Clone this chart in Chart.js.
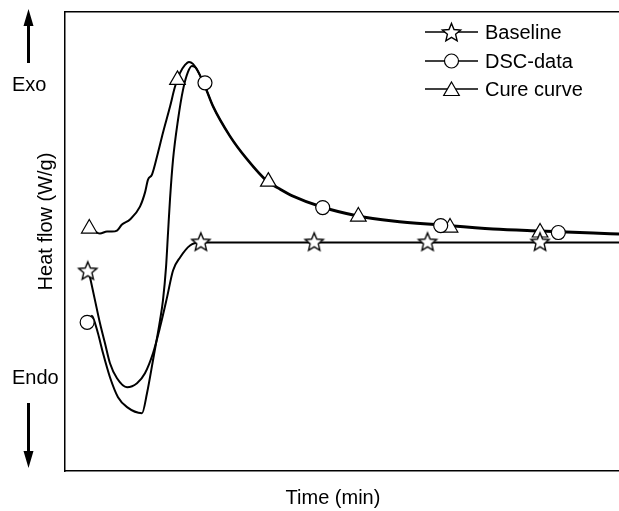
<!DOCTYPE html>
<html>
<head>
<meta charset="utf-8">
<script src="https://cdn.jsdelivr.net/npm/chart.js@4.4.1/dist/chart.umd.min.js"></script>
<style>
  body { margin: 0; background: #fff; }
  canvas { display: block; }
</style>
</head>
<body>
<canvas id="chart" width="619" height="511"></canvas>
<script>
// valores: tempo (min) e fluxo de calor (W/g)
const seriesLabels = ['Baseline', 'DSC-data', 'Cure curve'];

const baselineTime = [2.60, 3.25, 3.79, 4.33, 4.87, 5.63, 6.72, 7.80, 8.66, 9.53, 10.29, 11.05, 11.70, 12.46, 13.54, 14.62, 60];
const baselineFlow = [-0.31, -0.59, -0.82, -1.02, -1.22, -1.37, -1.46, -1.42, -1.32, -1.12, -0.86, -0.56, -0.29, -0.16, -0.04, -0.01, -0.01];

const dscTime = [2.82, 3.03, 3.57, 4.12, 4.87, 5.74, 6.72, 8.34, 8.88, 9.53, 10.29, 10.61, 10.94, 11.16, 11.37, 11.70, 12.24, 12.78, 13.32, 13.75, 14.19, 15.16, 16.03, 17.87, 19.71, 21.88, 23.29, 24.69, 27.83, 31.73, 35.52, 40.61, 46.36, 51.45, 57.19, 60];
const dscFlow = [-0.74, -0.76, -0.92, -1.12, -1.36, -1.56, -1.66, -1.72, -1.52, -1.19, -0.79, -0.59, -0.26, 0.09, 0.42, 0.82, 1.22, 1.52, 1.70, 1.76, 1.74, 1.55, 1.35, 1.05, 0.82, 0.60, 0.52, 0.45, 0.34, 0.25, 0.20, 0.16, 0.12, 0.10, 0.08, 0.07];

const cureTime = [2.71, 3.47, 3.79, 4.55, 5.09, 5.63, 6.17, 7.04, 8.12, 8.66, 8.99, 9.42, 10.07, 10.61, 11.37, 11.91, 12.46, 13.00, 13.43, 13.86, 14.30, 15.16, 16.03, 17.87, 19.71, 21.88, 23.29, 24.69, 27.83, 31.73, 35.52, 40.61, 46.36, 51.45, 57.19, 60];
const cureFlow = [0.14, 0.09, 0.08, 0.10, 0.10, 0.11, 0.17, 0.22, 0.35, 0.49, 0.62, 0.67, 0.89, 1.09, 1.35, 1.55, 1.69, 1.77, 1.80, 1.78, 1.72, 1.56, 1.36, 1.06, 0.83, 0.61, 0.53, 0.46, 0.35, 0.26, 0.21, 0.17, 0.13, 0.11, 0.09, 0.08];

// marcadores de cada serie
const starTime = [2.47, 14.71, 26.99, 39.26, 51.45];
const starFlow = [-0.30, -0.01, -0.01, -0.01, -0.01];
const circleTime = [2.40, 15.16, 27.91, 40.69, 53.43];
const circleFlow = [-0.81, 1.59, 0.34, 0.16, 0.09];
const triangleTime = [2.63, 12.18, 22.02, 31.77, 41.70, 51.45];
const triangleFlow = [0.13, 1.62, 0.60, 0.25, 0.14, 0.09];

const timeRange = [0, 60];
const flowRange = [-2.3, 2.3];

Chart.defaults.font.family = '"Liberation Sans", Arial, sans-serif';

function pontos(xs, ys) {
  return xs.map((x, i) => ({x: x, y: ys[i]}));
}

function desenhaEstrela(g, x, y, R) {
  const r = R * 0.45;
  g.beginPath();
  for (let i = 0; i < 10; i++) {
    const a = -Math.PI / 2 + i * Math.PI / 5;
    const rr = i % 2 ? r : R;
    g.lineTo(x + rr * Math.cos(a), y + rr * Math.sin(a));
  }
  g.closePath();
  g.fillStyle = '#fff';
  g.fill();
  g.lineWidth = 1.4;
  g.strokeStyle = '#000';
  g.stroke();
}

function canvasEstrela(R) {
  const c = document.createElement('canvas');
  const s = Math.ceil(R * 2 + 4);
  c.width = s;
  c.height = s;
  desenhaEstrela(c.getContext('2d'), s / 2, s / 2, R);
  return c;
}
const estrela = canvasEstrela(9.6);

function desenhaMarcador(ctx, tipo, x, y) {
  if (tipo === 'star') {
    desenhaEstrela(ctx, x, y, 9.6);
    return;
  }
  ctx.beginPath();
  if (tipo === 'circle') {
    ctx.arc(x, y, 7, 0, Math.PI * 2);
  } else {
    const r = 9;
    ctx.moveTo(x, y - r);
    ctx.lineTo(x + r * Math.sin(2 * Math.PI / 3), y + r / 2);
    ctx.lineTo(x - r * Math.sin(2 * Math.PI / 3), y + r / 2);
    ctx.closePath();
  }
  ctx.fillStyle = '#fff';
  ctx.fill();
  ctx.lineWidth = 1.2;
  ctx.strokeStyle = '#000';
  ctx.stroke();
}

// textos, setas e legenda desenhados por cima
const anotacoes = {
  id: 'anotacoes',
  afterDraw(chart) {
    const ctx = chart.ctx;
    ctx.save();
    ctx.fillStyle = '#000';
    ctx.font = '20px "Liberation Sans", Arial, sans-serif';
    ctx.textBaseline = 'alphabetic';
    ctx.textAlign = 'left';
    ctx.fillText('Exo', 12, 91);
    ctx.fillText('Endo', 12, 384);

    ctx.textAlign = 'center';
    ctx.fillText('Time (min)', 333, 504);
    ctx.save();
    ctx.translate(52, 221.5);
    ctx.rotate(-Math.PI / 2);
    ctx.fillText('Heat flow (W/g)', 0, 0);
    ctx.restore();

    // setas
    ctx.strokeStyle = '#000';
    ctx.lineWidth = 3;
    ctx.beginPath();
    ctx.moveTo(28.5, 63); ctx.lineTo(28.5, 22);
    ctx.moveTo(28.5, 403); ctx.lineTo(28.5, 455);
    ctx.stroke();
    ctx.beginPath();
    ctx.moveTo(28.5, 9); ctx.lineTo(33.5, 26); ctx.lineTo(23.5, 26); ctx.closePath();
    ctx.moveTo(28.5, 468); ctx.lineTo(33.5, 451); ctx.lineTo(23.5, 451); ctx.closePath();
    ctx.fill();

    // legenda
    const tipos = ['star', 'circle', 'triangle'];
    const linhas = [32, 61, 89];
    const ajuste = [1, 0, 2];
    ctx.textAlign = 'left';
    chart.data.datasets.slice(0, 3).forEach((ds, i) => {
      const y = linhas[i];
      ctx.lineWidth = 1.5;
      ctx.beginPath();
      ctx.moveTo(425, y); ctx.lineTo(478, y);
      ctx.stroke();
      desenhaMarcador(ctx, tipos[i], 451.5, y + ajuste[i]);
      ctx.fillStyle = '#000';
      ctx.fillText(ds.label, 485, y + 7);
    });
    ctx.restore();
  }
};

const curva = {
  showLine: true,
  pointRadius: 0,
  borderColor: '#000',
  borderWidth: 2,
  cubicInterpolationMode: 'monotone',
  order: 1
};
const marcador = {
  showLine: false,
  borderColor: '#000',
  backgroundColor: '#fff',
  borderWidth: 1.2,
  order: 0
};

const ctx = document.getElementById('chart').getContext('2d');
const grafico = new Chart(ctx, {
  type: 'scatter',
  data: {
    datasets: [
      Object.assign({}, marcador, {label: seriesLabels[0], data: pontos(starTime, starFlow), pointStyle: estrela, pointRadius: 10}),
      Object.assign({}, marcador, {label: seriesLabels[1], data: pontos(circleTime, circleFlow), pointStyle: 'circle', pointRadius: 7}),
      Object.assign({}, marcador, {label: seriesLabels[2], data: pontos(triangleTime, triangleFlow), pointStyle: 'triangle', pointRadius: 9}),
      Object.assign({}, curva, {label: seriesLabels[0] + ' line', data: pontos(baselineTime, baselineFlow)}),
      Object.assign({}, curva, {label: seriesLabels[1] + ' line', data: pontos(dscTime, dscFlow)}),
      Object.assign({}, curva, {label: seriesLabels[2] + ' line', data: pontos(cureTime, cureFlow)})
    ]
  },
  options: {
    responsive: false,
    animation: false,
    layout: {autoPadding: false, padding: {left: 65, top: 12, right: 0, bottom: 40}},
    plugins: {legend: {display: false}, tooltip: {enabled: false}},
    scales: {
      x: {
        type: 'linear', min: timeRange[0], max: timeRange[1],
        ticks: {display: false}, grid: {display: false},
        border: {display: true, color: '#000', width: 1.5},
        afterFit: s => { s.height = 0; }
      },
      xTop: {
        type: 'linear', axis: 'x', position: 'top', min: timeRange[0], max: timeRange[1],
        ticks: {display: false}, grid: {display: false},
        border: {display: true, color: '#000', width: 1.5},
        afterFit: s => { s.height = 0; }
      },
      y: {
        type: 'linear', min: flowRange[0], max: flowRange[1],
        ticks: {display: false}, grid: {display: false},
        border: {display: true, color: '#000', width: 1.5},
        afterFit: s => { s.width = 0; }
      }
    }
  },
  plugins: [anotacoes]
});
</script>
</body>
</html>
